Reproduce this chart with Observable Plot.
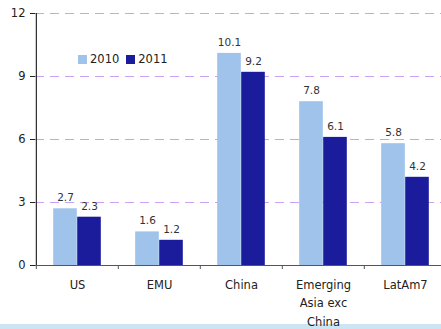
<!DOCTYPE html>
<html>
<head>
<meta charset="utf-8">
<script src="https://cdn.jsdelivr.net/npm/d3@7"></script>
<script src="https://cdn.jsdelivr.net/npm/@observablehq/plot@0.6"></script>
<style>
  html, body { margin: 0; padding: 0; background: #fff; overflow: hidden; }
  #wrap { position: relative; width: 441px; height: 329px; }
  #strip { position: absolute; left: 0; top: 324px; width: 441px; height: 5px; background: #cde4f2; }
  #chart { position: absolute; left: 0; top: 0; }
  #legend { position: absolute; left: 78px; top: 52px; font: 11.5px "DejaVu Sans", sans-serif; color: #222; display: flex; align-items: center; }
  #legend span.sw { display: inline-block; width: 9px; height: 9px; margin-right: 3px; }
  #legend span.lab { margin-right: 7px; }
</style>
</head>
<body>
<div id="wrap">
  <div id="strip"></div>
  <div id="chart"></div>
  <div id="legend"></div>
</div>
<script>
const categories = ["US", "EMU", "China", "Emerging\nAsia exc\nChina", "LatAm7"];
const values2010 = [2.7, 1.6, 10.1, 7.8, 5.8];
const values2011 = [2.3, 1.2, 9.2, 6.1, 4.2];
const years = ["2010", "2011"];
const yTicks = [0, 3, 6, 9, 12];
const gridTicks = [3, 6, 9, 12];
const colors = ["#9fc3ea", "#1a1c9c"];

const data2010 = categories.map((c, i) => ({category: c, value: values2010[i]}));
const data2011 = categories.map((c, i) => ({category: c, value: values2011[i]}));

const barHalf = 12;
const inset = 29.2;

const chart = Plot.plot({
  width: 441,
  height: 329,
  marginTop: 13,
  marginBottom: 64,
  marginLeft: 35,
  marginRight: -6,
  style: {fontFamily: "DejaVu Sans, sans-serif", fontSize: "11.5px", background: "transparent", color: "#222", overflow: "visible"},
  x: {domain: categories, padding: 0, label: null},
  y: {domain: [0, 12], label: null},
  marks: [
    Plot.ruleY(gridTicks, {stroke: "#c9a3f2", strokeDasharray: "9,6", strokeWidth: 1}),
    Plot.barY(data2010, {x: "category", y: "value", fill: colors[0], dx: -barHalf, insetLeft: inset, insetRight: inset}),
    Plot.barY(data2011, {x: "category", y: "value", fill: colors[1], dx: barHalf, insetLeft: inset, insetRight: inset}),
    Plot.text(data2010, {x: "category", y: "value", text: d => d.value.toFixed(1), dx: -barHalf, dy: -11, fontSize: 10.5, fill: "#333"}),
    Plot.text(data2011, {x: "category", y: "value", text: d => d.value.toFixed(1), dx: barHalf, dy: -11, fontSize: 10.5, fill: "#333"}),
    Plot.axisY({ticks: yTicks, tickSize: 5, tickPadding: 5, tickFormat: d => String(d), fontSize: 11.5, label: null}),
    Plot.ruleX([categories[0]], {dx: -41.2, y1: 0, y2: 12, stroke: "#000"}),
    Plot.ruleY([0], {stroke: "#555"}),
    Plot.ruleX(categories, {dx: -41.2, y1: 0, y2: 0, insetBottom: -4, stroke: "#555"}),
    Plot.axisX({tickSize: 0, tickPadding: 10, lineHeight: 1.62, fontSize: 11.5, label: null})
  ]
});
document.getElementById("chart").appendChild(chart);

const legend = document.getElementById("legend");
years.forEach((y, i) => {
  const sw = document.createElement("span");
  sw.className = "sw";
  sw.style.background = colors[i];
  const lab = document.createElement("span");
  lab.className = "lab";
  lab.textContent = y;
  legend.appendChild(sw);
  legend.appendChild(lab);
});
</script>
</body>
</html>
